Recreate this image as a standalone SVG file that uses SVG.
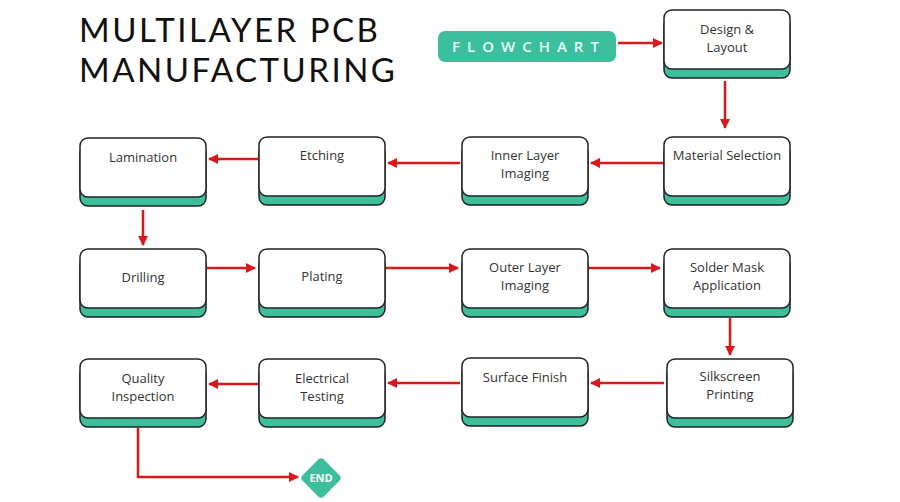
<svg xmlns="http://www.w3.org/2000/svg" width="900" height="502" viewBox="0 0 900 502">
<style>
.b{fill:#3dbf9e;stroke:#222;stroke-width:1.5}
.w{fill:#fff;stroke:#222;stroke-width:1.5}
.t{font-family:"Open Sans","Liberation Sans",sans-serif;font-size:13px;fill:#333;text-anchor:middle}
.c{stroke:#d8191c;stroke-width:2.5;fill:none;marker-end:url(#ah)}
</style>
<defs>
<marker id="ah" viewBox="0 0 10 10" refX="9" refY="5" markerWidth="4" markerHeight="4" orient="auto"><path d="M0,0L10,5L0,10z" fill="#d8191c"/></marker>
<g id="box"><rect class="b" x="0" y="8" width="126" height="60" rx="8"/><rect class="w" x="0" y="0" width="126" height="59" rx="8"/></g>
</defs>
<rect width="900" height="502" fill="#fff"/>
<g id="title" font-family="Lato,'Liberation Sans',sans-serif" font-size="33" fill="#111" letter-spacing="2.5">
<text x="79" y="42">MULTILAYER PCB</text><text x="79" y="82">MANUFACTURING</text></g>
<g id="badge"><rect x="438" y="31" width="178" height="31" rx="7" fill="#3dbf9e"/>
<text x="529" y="52" text-anchor="middle" font-family="'Open Sans','Liberation Sans',sans-serif" font-size="15" font-weight="600" fill="#e8fff8" letter-spacing="7">FLOWCHART</text></g>
<g id="connectors">
<path class="c" d="M618,43H662"/>
<path class="c" d="M725,81V128"/>
<path class="c" d="M664,163H591"/>
<path class="c" d="M460,163H388"/>
<path class="c" d="M258,159H209"/>
<path class="c" d="M143,210V245"/>
<path class="c" d="M207,268H255"/>
<path class="c" d="M386,268H458"/>
<path class="c" d="M589,268H660"/>
<path class="c" d="M730,318V355"/>
<path class="c" d="M664,383H591"/>
<path class="c" d="M460,383H388"/>
<path class="c" d="M258,384H209"/>
<path class="c" d="M138,428V477H298"/>
</g>
<g id="n1"><use href="#box" x="664" y="10"/><text class="t" x="727" y="34">Design &amp;</text><text class="t" x="727" y="52">Layout</text></g>
<g id="n2"><use href="#box" x="664" y="137"/><text class="t" x="727" y="160">Material Selection</text></g>
<g id="n3"><use href="#box" x="462" y="137"/><text class="t" x="525" y="160">Inner Layer</text><text class="t" x="525" y="178">Imaging</text></g>
<g id="n4"><use href="#box" x="259" y="137"/><text class="t" x="322" y="160">Etching</text></g>
<g id="n5"><use href="#box" x="80" y="138"/><text class="t" x="143" y="162">Lamination</text></g>
<g id="n6"><use href="#box" x="80" y="249"/><text class="t" x="143" y="282">Drilling</text></g>
<g id="n7"><use href="#box" x="259" y="249"/><text class="t" x="322" y="281">Plating</text></g>
<g id="n8"><use href="#box" x="462" y="249"/><text class="t" x="525" y="272">Outer Layer</text><text class="t" x="525" y="290">Imaging</text></g>
<g id="n9"><use href="#box" x="664" y="249"/><text class="t" x="727" y="272">Solder Mask</text><text class="t" x="727" y="290">Application</text></g>
<g id="n10"><use href="#box" x="667" y="359"/><text class="t" x="730" y="381">Silkscreen</text><text class="t" x="730" y="399">Printing</text></g>
<g id="n11"><use href="#box" x="462" y="358"/><text class="t" x="525" y="382">Surface Finish</text></g>
<g id="n12"><use href="#box" x="259" y="359"/><text class="t" x="322" y="383">Electrical</text><text class="t" x="322" y="401">Testing</text></g>
<g id="n13"><use href="#box" x="80" y="359"/><text class="t" x="143" y="383">Quality</text><text class="t" x="143" y="401">Inspection</text></g>
<g id="end"><rect x="306" y="463" width="30" height="30" rx="4" fill="#3dbf9e" transform="rotate(45 321 478)"/>
<text x="321" y="482" text-anchor="middle" font-family="'Open Sans','Liberation Sans',sans-serif" font-size="11" font-weight="bold" fill="#fff">END</text></g>
</svg>
